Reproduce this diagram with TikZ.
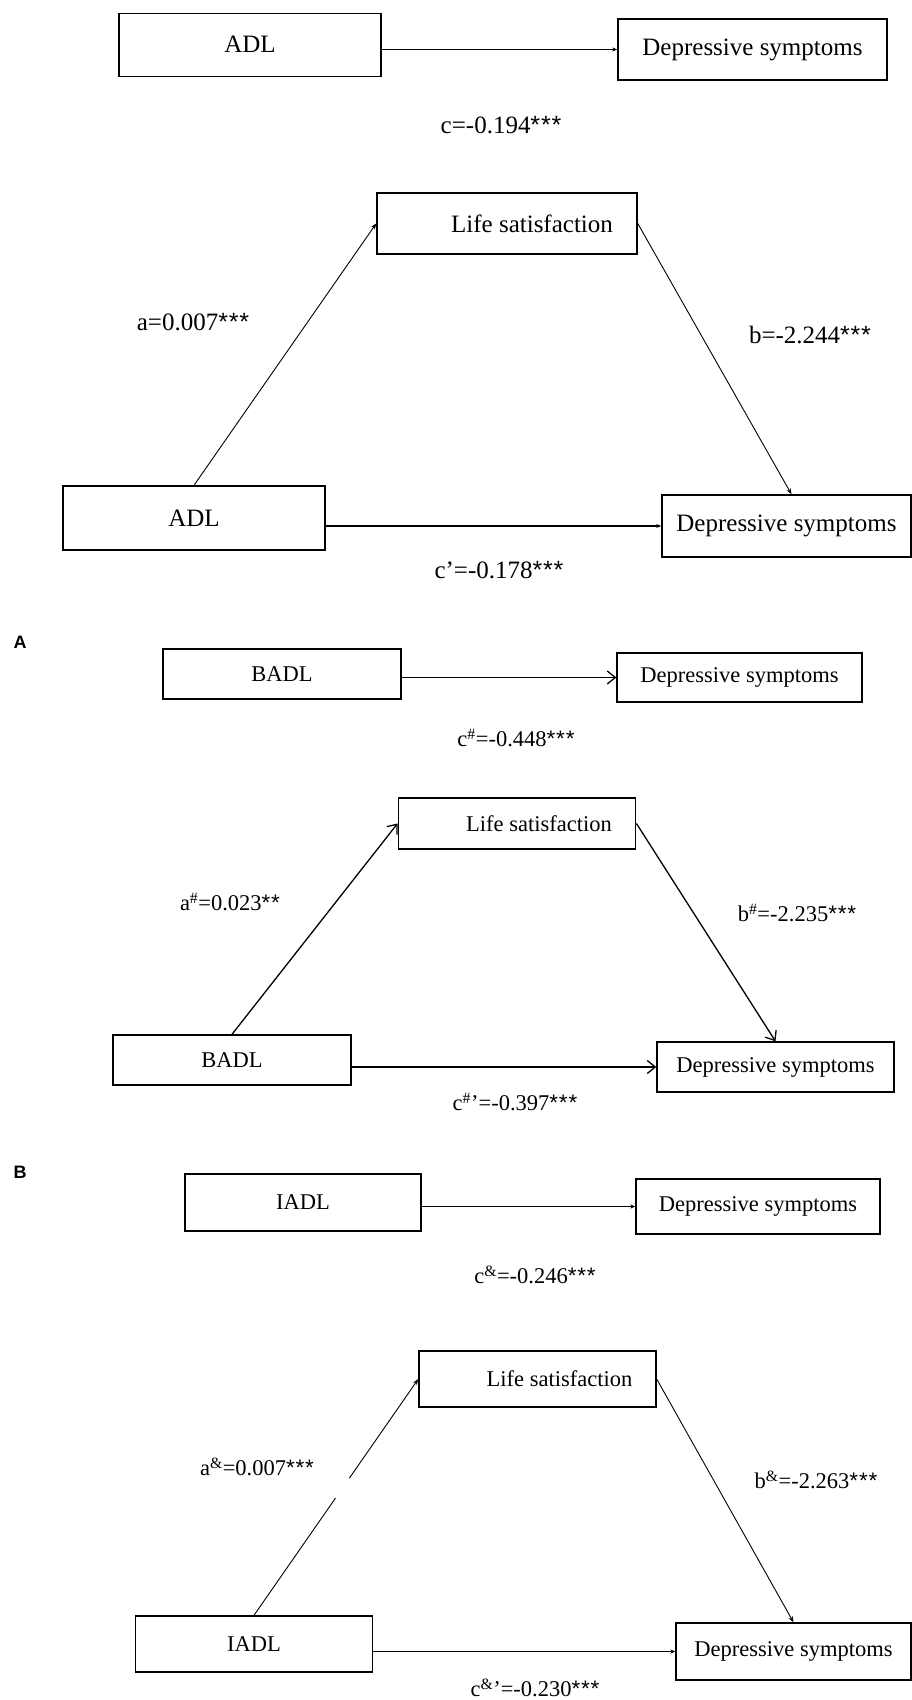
\documentclass[tikz,border=0pt]{standalone}
\usepackage{fontspec}
\setmainfont{Liberation Serif}
\setsansfont{Liberation Sans}
\usetikzlibrary{arrows.meta}
\newcommand{\sthree}{{\sffamily*\kern0.8pt*\kern0.8pt*}}
\newcommand{\stwo}{{\sffamily*\kern0.8pt*}}
\begin{document}
\begin{tikzpicture}[x=1pt,y=-1pt,
  box/.style={draw,line width=1.4pt,inner sep=0pt,anchor=center},
  bigtxt/.style={font=\fontsize{25}{30}\selectfont},
  smtxt/.style={font=\fontsize{22.5}{27}\selectfont},
  lab/.style={inner sep=0pt,anchor=center},
  thinarr/.style={line width=0.9pt,-{Stealth[length=6pt,width=4.5pt]}},
  horarr/.style={line width=1.6pt,-{Stealth[length=5pt,width=4pt]}},
  openarr/.style={line width=1.3pt,-{Straight Barb[length=8pt,width=13pt,line width=1.3pt]}},
  panel/.style={font=\sffamily\bfseries\fontsize{18}{22}\selectfont,inner sep=0pt}
]
\useasboundingbox (0,0) rectangle (912,1700);

% ---------- Section 1 ----------
\node[box,bigtxt,minimum width=262pt,minimum height=63pt] (adl1) at (250,44.7) {ADL};
\node[box,bigtxt,minimum width=269pt,minimum height=61pt] (dep1) at (752.5,49.5) {Depressive symptoms};
\draw[horarr] (adl1.east |- dep1.west) -- (dep1.west);
\node[lab,bigtxt] (lc1) at (501,125) {c=-0.194\sthree};

% ---------- Section 2 ----------
\node[box,bigtxt,minimum width=260pt,minimum height=61pt] (ls2) at (507,223.4) {\hspace*{50pt}Life satisfaction};
\node[box,bigtxt,minimum width=262pt,minimum height=64pt] (adl2) at (194,518) {ADL};
\node[box,bigtxt,minimum width=249pt,minimum height=62pt] (dep2) at (786.5,526) {Depressive symptoms};
\draw[thinarr] (adl2.north) -- (ls2.west);
\draw[thinarr] (ls2.east) -- ([xshift=5pt]dep2.north);
\draw[horarr] (adl2.east |- dep2.west) -- (dep2.west);
\node[lab,bigtxt] (la2) at (193,322) {a=0.007\sthree};
\node[lab,bigtxt] (lb2) at (810,335) {b=-2.244\sthree};
\node[lab,bigtxt] (lc2) at (499,570) {c’=-0.178\sthree};

% ---------- Panel A ----------
\node[panel] (pA) at (20,642) {A};

% ---------- Section 3 ----------
\node[box,smtxt,minimum width=238pt,minimum height=50pt] (badl3) at (282,674) {BADL};
\node[box,smtxt,minimum width=245pt,minimum height=49pt] (dep3) at (739.5,677.5) {Depressive symptoms};
\draw[openarr] (badl3.east |- dep3.west) -- (dep3.west);
\node[lab,smtxt] (lc3) at (516,738) {c\textsuperscript{\#}=-0.448\sthree};

% ---------- Section 4 ----------
\node[box,smtxt,minimum width=237.5pt,minimum height=51pt] (ls4) at (517,823.5) {\hspace*{44pt}Life satisfaction};
\node[box,smtxt,minimum width=238pt,minimum height=50pt] (badl4) at (232,1060) {BADL};
\node[box,smtxt,minimum width=237pt,minimum height=50pt] (dep4) at (775.5,1067) {Depressive symptoms};
\draw[openarr] (badl4.north) -- (ls4.west);
\draw[openarr] (ls4.east) -- (dep4.north);
\draw[openarr] (badl4.east |- dep4.west) -- (dep4.west);
\node[lab,smtxt] (la4) at (230,902) {a\textsuperscript{\#}=0.023\stwo};
\node[lab,smtxt] (lb4) at (797,913) {b\textsuperscript{\#}=-2.235\sthree};
\node[lab,smtxt] (lc4) at (515,1102) {c\textsuperscript{\#}’=-0.397\sthree};

% ---------- Panel B ----------
\node[panel] (pB) at (20,1172) {B};

% ---------- Section 5 ----------
\node[box,smtxt,minimum width=236pt,minimum height=57pt] (iadl5) at (303,1202.5) {IADL};
\node[box,smtxt,minimum width=244pt,minimum height=55pt] (dep5) at (758,1206.5) {Depressive symptoms};
\draw[horarr] (iadl5.east |- dep5.west) -- (dep5.west);
\node[lab,smtxt] (lc5) at (535,1275) {c\textsuperscript{\&}=-0.246\sthree};

% ---------- Section 6 ----------
\node[box,smtxt,minimum width=237pt,minimum height=56pt] (ls6) at (537.5,1379) {\hspace*{44pt}Life satisfaction};
\node[box,smtxt,minimum width=236.5pt,minimum height=56pt] (iadl6) at (254,1644) {IADL};
\node[box,smtxt,minimum width=235pt,minimum height=57pt] (dep6) at (793.5,1651.5) {Depressive symptoms};
\path (iadl6.north) -- (ls6.west) coordinate[pos=0.496] (g1) coordinate[pos=0.58] (g2);
\draw[line width=0.9pt] (iadl6.north) -- (g1);
\draw[thinarr] (g2) -- (ls6.west);
\draw[thinarr] (ls6.east) -- (dep6.north);
\draw[horarr] (iadl6.east |- dep6.west) -- (dep6.west);
\node[lab,smtxt] (la6) at (257,1467) {a\textsuperscript{\&}=0.007\sthree};
\node[lab,smtxt] (lb6) at (816,1480) {b\textsuperscript{\&}=-2.263\sthree};
\node[lab,smtxt] (lc6) at (535,1688) {c\textsuperscript{\&}’=-0.230\sthree};
\end{tikzpicture}
\end{document}
